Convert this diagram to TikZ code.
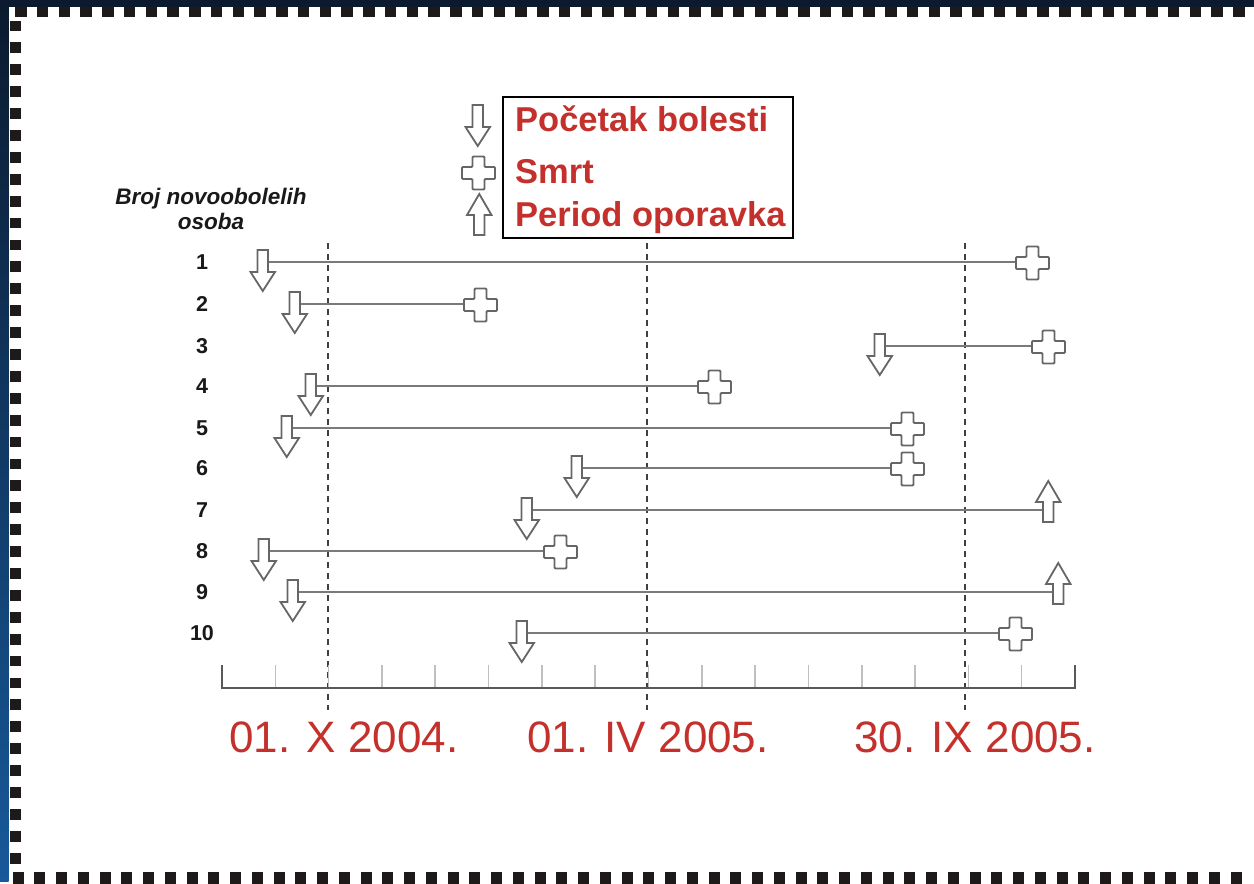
\documentclass[tikz,border=0pt]{standalone}
\usepackage{fontspec}
\setmainfont{Liberation Sans}
\newfontfamily\datefont{Liberation Sans}
\usetikzlibrary{calc}

\definecolor{frameNavy}{HTML}{0B1A2E}
\definecolor{frameBlue}{HTML}{17599A}
\definecolor{sqInk}{HTML}{1E1A1A}
\definecolor{redText}{HTML}{C4302B}
\definecolor{lineGray}{HTML}{7A7A7A}
\definecolor{symGray}{HTML}{666666}

\tikzset{
  x=1pt, y=-1pt,
  span/.style={draw=lineGray, line width=2pt},
  symbol/.style={draw=symGray, line width=1.8pt, fill=white, line join=miter},
  guide/.style={draw=black!75, line width=1.6pt, dash pattern=on 6pt off 5pt},
  axisline/.style={draw=black!65, line width=2pt},
  minortick/.style={draw=black!25, line width=1.6pt},
  legendtext/.style={anchor=base west, inner sep=0pt, text=redText, font=\bfseries\fontsize{34.5}{38}\selectfont},
  datetext/.style={anchor=base, inner sep=0pt, text=redText, font=\datefont\fontsize{44}{50}\selectfont},
  rownum/.style={anchor=base, inner sep=0pt, text=black!90, font=\bfseries\fontsize{21.5}{24}\selectfont},
  sq/.style={fill=sqInk, draw=none},
  % onset arrow: shaft's right edge sits on the period line
  downarr/.pic={\path[symbol] (-10.5,-12) -- (0,-12) -- (0,10) -- (7,10) -- (-5.25,29) -- (-17.5,10) -- (-10.5,10) -- cycle;},
  % recovery arrow: shaft's left edge sits on the period line
  uparr/.pic={\path[symbol] (0,12) -- (10.5,12) -- (10.5,-8) -- (17.5,-8) -- (5.25,-29) -- (-7,-8) -- (0,-8) -- cycle;},
  % death mark: left arm touches the period line
  deathmark/.pic={\path[symbol, rounded corners=1pt] (10.5,-15.5) -- (22.5,-15.5) -- (22.5,-5) -- (33,-5) -- (33,7) -- (22.5,7) -- (22.5,17.5) -- (10.5,17.5) -- (10.5,7) -- (0,7) -- (0,-5) -- (10.5,-5) -- cycle;},
}

\begin{document}
\begin{tikzpicture}
% frame
\fill[frameNavy] (0,0) rectangle (1254,881);
\shade[top color=frameNavy, bottom color=frameBlue] (0,0) rectangle (8.5,881);
\fill[white] (8.5,7) rectangle (1254,881);
\foreach \i in {0,...,56} { \fill[sq] ({15+21.75*\i},7) rectangle ++(11.5,10.3); }
\foreach \i in {0,...,38} { \fill[sq] (9.5,{20.5+21.9*\i}) rectangle ++(11,10.8); }
\foreach \i in {0,...,56} { \fill[sq] ({12.5+21.75*\i},872) rectangle ++(11,12); }

% legend
\draw[black, line width=1.8pt] (503,97) rectangle (793,238);
\node[legendtext] (legOnset) at (515,131) {Početak bolesti};
\node[legendtext] (legDeath) at (515,183) {Smrt};
\node[legendtext] (legRecov) at (515,226) {Period oporavka};
\coordinate (symOnset) at (483,117);
\coordinate (symDeath) at (462,172);
\coordinate (symRecov) at (474,223);
\pic at (symOnset) {downarr};
\pic at (symDeath) {deathmark};
\pic at (symRecov) {uparr};

% row heading
\node[align=center, inner sep=0pt, font=\bfseries\itshape\fontsize{22.5}{25}\selectfont, text=black!90] (heading) at (211,209) {Broj novoobolelih\\osoba};

% date guides
\foreach \gx/\nm in {328/gA, 647/gB, 965/gC} {
  \coordinate (\nm top) at (\gx,243);
  \coordinate (\nm bot) at (\gx,710);
  \draw[guide] (\nm top) -- (\nm bot);
}

% time axis
\coordinate (axL) at (222,688);
\coordinate (axR) at (1075,688);
\foreach \k in {1,...,15} {
  \coordinate (tk\k) at ({222+53.3125*\k},688);
  \draw[minortick] (tk\k) -- ++(0,-23);
}
\draw[axisline] ($(axL)+(0,-23)$) -- (axL) -- (axR) -- ($(axR)+(0,-23)$);

\node[datetext] (dA) at (344,752) {01. X 2004.};
\node[datetext] (dB) at (648,752) {01. IV 2005.};
\node[datetext] (dC) at (975,752) {30. IX 2005.};

% patients: onset point, end point, outcome
\foreach \n/\ry/\sx/\ex/\out in {
  1/262/268/1016/deathmark,
  2/304/300/464/deathmark,
  3/346/885/1032/deathmark,
  4/386/316/698/deathmark,
  5/428/292/891/deathmark,
  6/468/582/891/deathmark,
  7/510/532/1043/uparr,
  8/551/269/544/deathmark,
  9/592/298/1053/uparr,
  10/633/527/999/deathmark} {
  \node[rownum] (num\n) at (202,{\ry+7}) {\n};
  \coordinate (on\n) at (\sx,\ry);
  \coordinate (end\n) at (\ex,\ry);
  \draw[span] (on\n) -- (end\n);
  \pic at (on\n) {downarr};
  \pic at (end\n) {\out};
}
\end{tikzpicture}
\end{document}
